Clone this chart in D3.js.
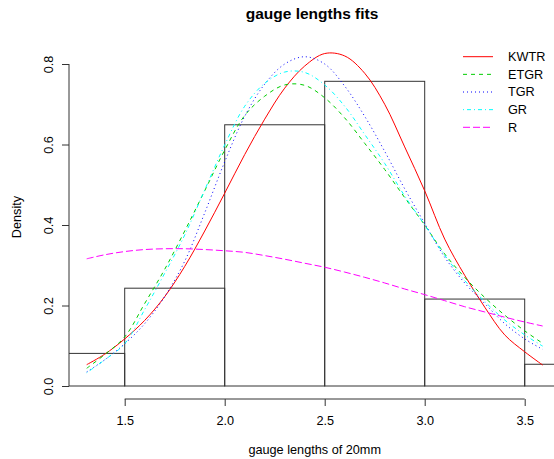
<!DOCTYPE html>
<html>
<head>
<meta charset="utf-8">
<script src="https://cdn.jsdelivr.net/npm/d3@7"></script>
<style>
  html, body { margin: 0; padding: 0; background: #fff; }
  svg text { font-family: "Liberation Sans", Arial, sans-serif; fill: #000; }
</style>
</head>
<body>
<svg id="chart" width="554" height="459"></svg>
<script>
// ---- data ----
const binEdges = [1.0, 1.5, 2.0, 2.5, 3.0, 3.5, 4.0];
const densities = [0.081, 0.243, 0.649, 0.757, 0.216, 0.054];

const xGrid = [1.31, 1.4, 1.5, 1.6, 1.7, 1.8, 1.9, 2.0, 2.1, 2.2, 2.3, 2.4, 2.5,
               2.6, 2.7, 2.8, 2.9, 3.0, 3.1, 3.2, 3.3, 3.4, 3.5, 3.59];

const kwtr = [0.053, 0.079, 0.117, 0.163, 0.222, 0.297, 0.385, 0.479, 0.575, 0.663, 0.74, 0.795, 0.826,
              0.82, 0.777, 0.70, 0.594, 0.485, 0.365, 0.275, 0.196, 0.127, 0.085, 0.052];
const etgr = [0.044, 0.078, 0.122, 0.205, 0.29, 0.385, 0.485, 0.586, 0.672, 0.72, 0.748, 0.747, 0.716,
              0.666, 0.603, 0.538, 0.468, 0.40, 0.328, 0.27, 0.22, 0.176, 0.137, 0.106];
const tgr  = [0.035, 0.065, 0.105, 0.155, 0.222, 0.31, 0.43, 0.557, 0.67, 0.75, 0.80, 0.818, 0.80,
              0.745, 0.67, 0.583, 0.49, 0.404, 0.32, 0.256, 0.205, 0.155, 0.117, 0.091];
const gr   = [0.033, 0.065, 0.105, 0.19, 0.28, 0.375, 0.487, 0.599, 0.695, 0.752, 0.78, 0.779, 0.748,
              0.695, 0.625, 0.553, 0.472, 0.40, 0.325, 0.262, 0.21, 0.164, 0.127, 0.099];
const rr   = [0.316, 0.326, 0.334, 0.339, 0.341, 0.341, 0.339, 0.336, 0.332, 0.324, 0.315, 0.305, 0.295,
              0.283, 0.27, 0.256, 0.241, 0.227, 0.212, 0.197, 0.184, 0.171, 0.159, 0.149];

const seriesNames = ["KWTR", "ETGR", "TGR", "GR", "R"];
const seriesValues = [kwtr, etgr, tgr, gr, rr];
const seriesColors = ["#FF0000", "#00CD00", "#0000FF", "#00FFFF", "#FF00FF"];
const seriesDash = [null, "4,4", "1,3", "1,3,4,3", "7,3"];

const xTicks = [1.5, 2.0, 2.5, 3.0, 3.5];
const yTicks = [0.0, 0.2, 0.4, 0.6, 0.8];

// ---- layout ----
const svg = d3.select("#chart");
const x = d3.scaleLinear().domain([1.5, 3.5]).range([124.7, 524.7]);
const y = d3.scaleLinear().domain([0, 0.8]).range([386, 64]);
const plotLeft = 69;
const axisColor = "#333";

svg.append("defs").append("clipPath").attr("id", "plotclip")
  .append("rect").attr("x", plotLeft).attr("y", 0).attr("width", 600).attr("height", 395);

// histogram
const bars = densities.map((d, i) => ({ x0: binEdges[i], x1: binEdges[i + 1], d }));
svg.append("g").attr("clip-path", "url(#plotclip)")
  .selectAll("rect").data(bars).join("rect")
  .attr("x", b => x(b.x0))
  .attr("y", b => y(b.d))
  .attr("width", b => x(b.x1) - x(b.x0))
  .attr("height", b => y(0) - y(b.d))
  .attr("fill", "none")
  .attr("stroke", axisColor)
  .attr("stroke-width", 1);

// curves
const line = d3.line().x((d, i) => x(xGrid[i])).y(d => y(d)).curve(d3.curveCatmullRom.alpha(0.5));
seriesValues.forEach((vals, k) => {
  svg.append("path")
    .attr("d", line(vals))
    .attr("fill", "none")
    .attr("stroke", seriesColors[k])
    .attr("stroke-width", 1)
    .attr("stroke-dasharray", seriesDash[k]);
});

// y axis
const yAxis = d3.axisLeft(y).tickValues(yTicks).tickFormat(d3.format(".1f")).tickSize(7).tickPadding(0);
const gy = svg.append("g").attr("transform", `translate(${plotLeft},0)`).call(yAxis);
gy.select(".domain").attr("stroke", axisColor).attr("d", `M0,${y(0)}V${y(0.8)}`);
gy.selectAll(".tick line").attr("stroke", axisColor);
gy.selectAll(".tick text")
  .attr("font-size", "12.7px")
  .attr("x", null)
  .attr("text-anchor", "middle")
  .attr("transform", "translate(-20.5,0) rotate(-90)")
  .attr("dy", "0.35em")
  .attr("font-family", "Liberation Sans, Arial, sans-serif")
  .attr("fill", "#000");

// x axis
const xAxis = d3.axisBottom(x).tickValues(xTicks).tickFormat(d3.format(".1f")).tickSize(7).tickPadding(10);
const gx = svg.append("g").attr("transform", "translate(0,399)").call(xAxis);
gx.select(".domain").attr("stroke", axisColor).attr("d", `M${x(1.5)},0H${x(3.5)}`);
gx.selectAll(".tick line").attr("stroke", axisColor);
gx.selectAll(".tick text")
  .attr("font-size", "12.7px")
  .attr("font-family", "Liberation Sans, Arial, sans-serif")
  .attr("fill", "#000");

// titles
svg.append("text").attr("x", 312).attr("y", 18.5).attr("text-anchor", "middle")
  .attr("font-size", "15.5px").attr("font-weight", "bold").text("gauge lengths fits");
svg.append("text").attr("x", 314.7).attr("y", 453.5).attr("text-anchor", "middle")
  .attr("font-size", "12.7px").text("gauge lengths of 20mm");
svg.append("text").attr("transform", "translate(21,217) rotate(-90)").attr("text-anchor", "middle")
  .attr("font-size", "12.7px").text("Density");

// legend
const lg = svg.append("g");
seriesNames.forEach((name, k) => {
  const yy = 56.7 + k * 17.65;
  lg.append("line").attr("x1", 463).attr("x2", 493).attr("y1", yy).attr("y2", yy)
    .attr("stroke", seriesColors[k]).attr("stroke-width", 1).attr("stroke-dasharray", seriesDash[k]);
  lg.append("text").attr("x", 508).attr("y", yy).attr("dy", "0.35em")
    .attr("font-size", "12.7px").text(name);
});
</script>
</body>
</html>
